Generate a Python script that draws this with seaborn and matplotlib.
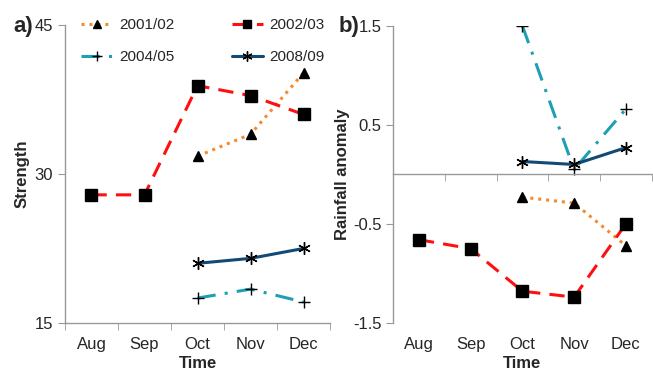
import pandas as pd
import numpy as np
import matplotlib
matplotlib.use("Agg")
import matplotlib.pyplot as plt
import seaborn as sns

# data
months = ['Aug', 'Sep', 'Oct', 'Nov', 'Dec']
seasons = ['2001/02', '2002/03', '2004/05', '2008/09']

strength_0102 = [None, None, 31.8, 34.0, 40.2]
strength_0203 = [27.9, 27.9, 38.9, 37.9, 36.0]
strength_0405 = [None, None, 17.5, 18.4, 17.1]
strength_0809 = [None, None, 21.0, 21.5, 22.5]

rain_0102 = [None, None, -0.23, -0.29, -0.72]
rain_0203 = [-0.66, -0.75, -1.18, -1.24, -0.50]
rain_0405 = [None, None, 1.50, 0.05, 0.66]
rain_0809 = [None, None, 0.13, 0.10, 0.27]

colors = {'2001/02': '#F58A2E', '2002/03': '#FF1010', '2004/05': '#1E9FB3', '2008/09': '#134A75'}
styles = {'2001/02': (0, (1, 1.6)), '2002/03': (0, (5, 3)), '2004/05': (0, (6, 3, 1, 3)), '2008/09': '-'}
marks = {'2001/02': '^', '2002/03': 's', '2004/05': '+', '2008/09': (6, 2, 0)}
msize = {'2001/02': 7, '2002/03': 8, '2004/05': 9, '2008/09': 9}


def long_df(series):
    rows = []
    for name, vals in zip(seasons, series):
        for i, v in enumerate(vals):
            if v is not None:
                rows.append({'season': name, 'month': i, 'value': v})
    return pd.DataFrame(rows)


df_a = long_df([strength_0102, strength_0203, strength_0405, strength_0809])
df_b = long_df([rain_0102, rain_0203, rain_0405, rain_0809])

sns.set_style("white")
plt.rcParams['font.family'] = ['Liberation Sans', 'DejaVu Sans']
plt.rcParams['font.size'] = 12

fig = plt.figure(figsize=(6.53, 3.75), dpi=100)
ax1 = fig.add_axes([0.0995, 0.139, 0.406, 0.794])
ax2 = fig.add_axes([0.602, 0.139, 0.396, 0.792])

for ax, df in [(ax1, df_a), (ax2, df_b)]:
    for s in seasons:
        sub = df[df['season'] == s]
        sns.lineplot(data=sub, x='month', y='value', ax=ax, color=colors[s],
                     linestyle=styles[s], linewidth=2.2, marker=marks[s],
                     markersize=msize[s], markerfacecolor='black',
                     markeredgecolor='black', markeredgewidth=1.0, label=s)
    ax.set_xlim(-0.5, 4.5)
    for sp in ['top', 'right']:
        ax.spines[sp].set_visible(False)
    for sp in ['left', 'bottom']:
        ax.spines[sp].set_color('#999999')
        ax.spines[sp].set_linewidth(1)

# panel a
ax1.set_ylim(15, 45)
ax1.set_yticks([15, 30, 45])
ax1.set_xticks(range(len(months)))
ax1.set_xticklabels(months)
ax1.set_xticks(np.arange(-0.5, 5, 1), minor=True)
ax1.tick_params(axis='x', which='major', length=0, pad=10)
ax1.tick_params(axis='x', which='minor', length=5, color='#999999', direction='out', bottom=True)
ax1.tick_params(axis='y', length=5, color='#999999', direction='out', left=True)
ax1.set_xlabel('Time', fontweight='bold', labelpad=3)
ax1.set_ylabel('Strength', fontweight='bold', labelpad=4)

h, l = ax1.get_legend_handles_labels()
order = [0, 2, 1, 3]
ax1.legend([h[i] for i in order], [l[i] for i in order], ncol=2, frameon=False,
           loc='upper left', bbox_to_anchor=(0.01, 1.07), handlelength=2.0,
           handletextpad=0.45, columnspacing=3.8, labelspacing=1.2,
           markerscale=0.8, fontsize=11)
ax2.get_legend().remove()

# panel b: axis line crosses at zero, labels at the bottom
ax2.set_ylim(-1.5, 1.5)
ax2.set_yticks([-1.5, -0.5, 0.5, 1.5])
ax2.set_yticklabels(['-1.5', '-0.5', '0.5', '1.5'])
ax2.tick_params(axis='y', length=5, color='#999999', direction='out', left=True)
ax2.spines['bottom'].set_position(('data', 0))
ax2.set_xticks(range(len(months)))
ax2.set_xticklabels([])
ax2.set_xticks(np.arange(-0.5, 5, 1), minor=True)
ax2.tick_params(axis='x', which='major', length=0)
ax2.tick_params(axis='x', which='minor', length=5, color='#999999', direction='out', bottom=True)
ax2.set_xlabel('')
ax2.set_ylabel('Rainfall anomaly', fontweight='bold', labelpad=2)
sec = ax2.secondary_xaxis('bottom')
sec.set_xticks(range(len(months)))
sec.set_xticklabels(months)
sec.spines['bottom'].set_visible(False)
sec.tick_params(axis='x', length=0, pad=10)
sec.set_xlabel('Time', fontweight='bold', labelpad=3)

fig.text(0.02, 0.93, 'a)', fontsize=16, fontweight='bold', va='center')
fig.text(0.518, 0.93, 'b)', fontsize=16, fontweight='bold', va='center')

fig.savefig('out.png', dpi=100)
